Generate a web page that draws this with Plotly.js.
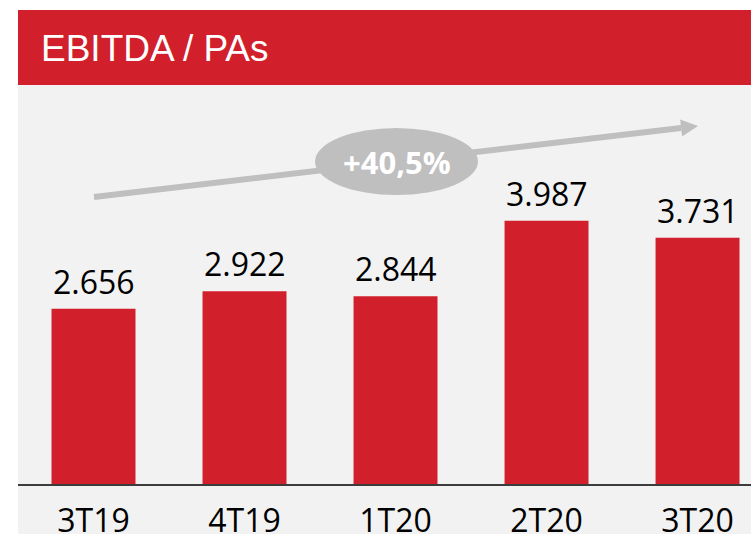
<!DOCTYPE html>
<html>
<head>
<meta charset="utf-8">
<script src="https://cdn.plot.ly/plotly-3.0.1.min.js"></script>
<style>html,body{margin:0;padding:0;background:#fff;}#chart{width:751px;height:534px;}</style>
</head>
<body>
<div id="chart"></div>
<script>
// Data
var categories = ['3T19', '4T19', '1T20', '2T20', '3T20'];
var ebitda = [2656, 2922, 2844, 3987, 3731];
var chartTitle = 'EBITDA / PAs';
var growthLabel = '+40,5%';

// Layout helpers (pixel -> paper)
var W = 751, H = 534, ML = 18, MR = 0, MT = 85, MB = 50;
var PW = W - ML - MR, PH = H - MT - MB;
function P(x) { return (x - ML) / PW; }
function Q(y) { return (H - MB - y) / PH; }

function fmt(v) { return String(v).replace(/\B(?=(\d{3})+(?!\d))/g, '.'); }

var red = '#d11f2b';
var grey = '#bfbfbf';
var labelFont = 'Open Sans, Noto Sans, sans-serif';

// arrow geometry (decoration)
var tail = [94, 197], tip = [698, 126];
var dx = tip[0] - tail[0], dy = tip[1] - tail[1];
var len = Math.sqrt(dx * dx + dy * dy);
var ux = dx / len, uy = dy / len, nx = -uy, ny = ux;
var headL = 17, headW = 8.5;
var bx = tip[0] - headL * ux, by = tip[1] - headL * uy;
var c1 = [bx + headW * nx, by + headW * ny], c2 = [bx - headW * nx, by - headW * ny];
var headPath = 'M ' + P(tip[0]) + ' ' + Q(tip[1]) + ' L ' + P(c1[0]) + ' ' + Q(c1[1]) +
  ' L ' + P(c2[0]) + ' ' + Q(c2[1]) + ' Z';

var trace = {
  type: 'bar',
  x: categories,
  y: ebitda,
  marker: { color: red, line: { width: 0 } },
  hoverinfo: 'skip'
};

var annotations = categories.map(function (c, i) {
  return {
    x: c, y: ebitda[i], xref: 'x', yref: 'y',
    text: fmt(ebitda[i]), showarrow: false,
    xanchor: 'center', yanchor: 'bottom', yshift: 4,
    font: { family: labelFont, size: 32, color: '#000000' }
  };
});
annotations.push({
  xref: 'paper', yref: 'paper', x: P(39), y: Q(48),
  xanchor: 'left', yanchor: 'middle', showarrow: false,
  text: chartTitle,
  font: { family: 'Liberation Sans, Arial, sans-serif', size: 37, color: '#ffffff' }
});
annotations.push({
  xref: 'paper', yref: 'paper', x: P(397), y: Q(162),
  xanchor: 'center', yanchor: 'middle', showarrow: false,
  text: growthLabel,
  font: { family: labelFont, size: 31, color: '#ffffff', weight: 700 }
});

var layout = {
  width: W, height: H,
  margin: { l: ML, r: MR, t: MT, b: MB, pad: 0 },
  paper_bgcolor: '#ffffff',
  plot_bgcolor: 'rgba(0,0,0,0)',
  separators: ',.',
  showlegend: false,
  bargap: 0.444,
  xaxis: {
    type: 'category', range: [-0.5, 4.354],
    showline: true, linecolor: '#3c3c3c', linewidth: 2,
    ticks: '', showgrid: false, zeroline: false,
    tickfont: { family: labelFont, size: 32, color: '#000000' },
    ticklabelstandoff: 8, fixedrange: true
  },
  yaxis: {
    range: [0, 6045], visible: false, showgrid: false, zeroline: false, fixedrange: true
  },
  shapes: [
    { type: 'rect', xref: 'paper', yref: 'paper', x0: 0, x1: 1, y0: Q(H), y1: 1,
      fillcolor: '#f2f2f2', line: { width: 0 }, layer: 'below' },
    { type: 'rect', xref: 'paper', yref: 'paper', x0: 0, x1: 1, y0: 1, y1: Q(10),
      fillcolor: red, line: { width: 0 }, layer: 'below' },
    { type: 'line', xref: 'paper', yref: 'paper', x0: P(tail[0]), y0: Q(tail[1]), x1: P(bx), y1: Q(by),
      line: { color: grey, width: 6 }, layer: 'above' },
    { type: 'path', xref: 'paper', yref: 'paper', path: headPath,
      fillcolor: grey, line: { width: 0 }, layer: 'above' },
    { type: 'circle', xref: 'paper', yref: 'paper', x0: P(315), x1: P(478), y0: Q(195), y1: Q(128),
      fillcolor: grey, line: { width: 0 }, layer: 'above' }
  ],
  annotations: annotations
};

Plotly.newPlot('chart', [trace], layout, { displayModeBar: false, staticPlot: true });
</script>
</body>
</html>
